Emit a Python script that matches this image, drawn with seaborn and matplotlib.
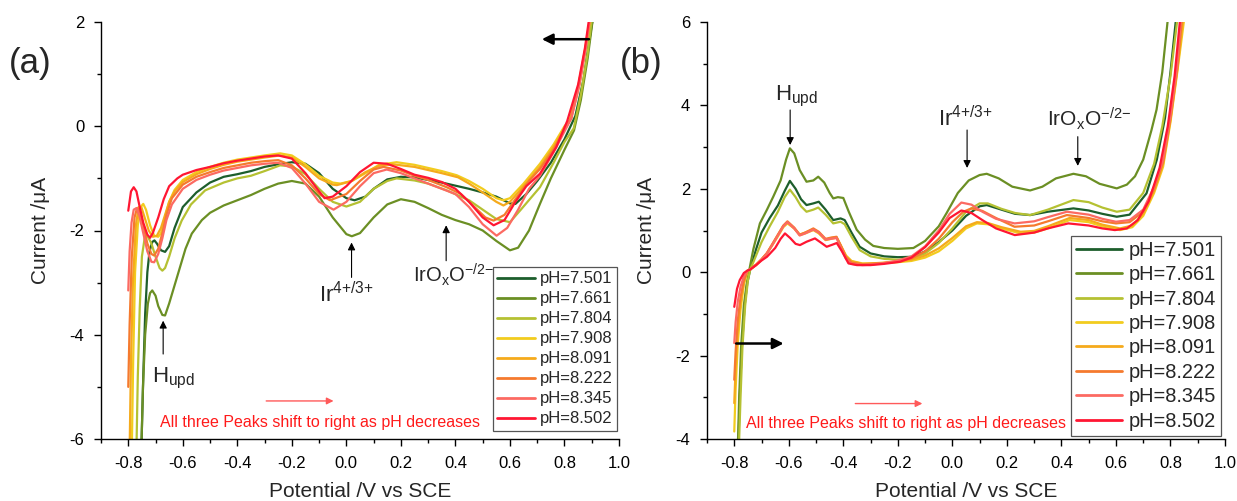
import matplotlib
matplotlib.use("Agg")
import matplotlib.pyplot as plt
from matplotlib.ticker import MultipleLocator
import pandas as pd
import seaborn as sns

# ---------------- data ----------------
PH_LABELS = ["pH=7.501", "pH=7.661", "pH=7.804", "pH=7.908",
             "pH=8.091", "pH=8.222", "pH=8.345", "pH=8.502"]
COLORS = ["#1d5e2c", "#6b8f24", "#b5c132", "#f2cc1e",
          "#f5aa1c", "#f57a2e", "#fc6a62", "#ff1632"]

# (a) cathodic sweep, potential (V vs SCE) and current (uA)
a7501_E = [-0.752, -0.745, -0.738, -0.73, -0.722, -0.712, -0.704, -0.695, -0.68, -0.665, -0.65, -0.63, -0.6, -0.55,
           -0.5, -0.45, -0.4, -0.35, -0.3, -0.25, -0.2, -0.15, -0.1, -0.05, 0.0, 0.03, 0.07, 0.1, 0.15, 0.2, 0.25,
           0.3, 0.35, 0.4, 0.45, 0.5, 0.55, 0.6, 0.62, 0.66, 0.7, 0.75, 0.8, 0.84, 0.87, 0.89, 0.905]
a7501_I = [-6.2, -4.8, -3.6, -2.8, -2.4, -2.22, -2.19, -2.25, -2.38, -2.41, -2.3, -1.95, -1.55, -1.27,
           -1.08, -0.97, -0.92, -0.86, -0.78, -0.73, -0.69, -0.72, -0.9, -1.2, -1.38, -1.42, -1.35, -1.2, -1.02, -0.97, -0.98,
           -1.03, -1.08, -1.14, -1.2, -1.27, -1.35, -1.48, -1.49, -1.3, -1.05, -0.7, -0.25, 0.2, 0.9, 1.6, 2.1]

a7661_E = [-0.752, -0.746, -0.738, -0.728, -0.72, -0.712, -0.70, -0.69, -0.675, -0.665, -0.65, -0.63, -0.61, -0.59,
           -0.567, -0.53, -0.5, -0.45, -0.4, -0.35, -0.3, -0.25, -0.2, -0.15, -0.1, -0.05, 0.0, 0.02, 0.05, 0.1,
           0.15, 0.2, 0.25, 0.3, 0.35, 0.4, 0.45, 0.5, 0.55, 0.6, 0.63, 0.67, 0.71, 0.75, 0.8, 0.835, 0.86, 0.885, 0.905]
a7661_I = [-6.2, -5.0, -4.0, -3.4, -3.2, -3.15, -3.25, -3.45, -3.62, -3.63, -3.4, -3.05, -2.7, -2.35,
           -2.06, -1.8, -1.66, -1.52, -1.42, -1.32, -1.2, -1.1, -1.05, -1.1, -1.35, -1.75, -2.07, -2.11, -2.05, -1.75,
           -1.5, -1.4, -1.45, -1.57, -1.7, -1.8, -1.88, -2.0, -2.2, -2.38, -2.33, -2.0, -1.49, -1.0, -0.45, -0.08, 0.5, 1.3, 2.1]

a7804_E = [-0.77, -0.765, -0.758, -0.75, -0.74, -0.73, -0.715, -0.7, -0.685, -0.675, -0.665, -0.65, -0.63, -0.604,
           -0.57, -0.518, -0.45, -0.4, -0.35, -0.3, -0.243, -0.2, -0.15, -0.1, -0.05, 0.0, 0.05, 0.1, 0.15, 0.184,
           0.25, 0.3, 0.368, 0.45, 0.5, 0.55, 0.6, 0.64, 0.71, 0.76, 0.8, 0.834, 0.86, 0.885, 0.9]
a7804_I = [-6.2, -4.8, -3.5, -2.5, -2.15, -2.1, -2.25, -2.5, -2.72, -2.77, -2.72, -2.5, -2.15, -1.81,
           -1.5, -1.23, -1.08, -1.0, -0.95, -0.86, -0.75, -0.77, -0.92, -1.2, -1.45, -1.54, -1.45, -1.2, -1.05, -1.0,
           -1.04, -1.1, -1.23, -1.42, -1.6, -1.78, -1.84, -1.6, -1.17, -0.7, -0.3, -0.04, 0.6, 1.4, 2.05]

a7908_E = [-0.787, -0.782, -0.775, -0.765, -0.755, -0.745, -0.735, -0.72, -0.705, -0.69, -0.68, -0.665, -0.65, -0.63,
           -0.6, -0.55, -0.5, -0.45, -0.4, -0.35, -0.3, -0.243, -0.2, -0.15, -0.1, -0.05, -0.022, 0.02, 0.07, 0.12,
           0.184, 0.25, 0.3, 0.35, 0.405, 0.45, 0.5, 0.55, 0.576, 0.6, 0.65, 0.71, 0.76, 0.8, 0.82, 0.85, 0.875, 0.895]
a7908_I = [-6.2, -4.5, -2.8, -1.9, -1.55, -1.49, -1.6, -1.9, -2.1, -2.12, -2.05, -1.75, -1.45, -1.22,
           -1.03, -0.88, -0.78, -0.7, -0.64, -0.6, -0.56, -0.52, -0.56, -0.73, -0.95, -1.08, -1.1, -1.05, -0.9, -0.74,
           -0.69, -0.74, -0.8, -0.86, -0.94, -1.05, -1.2, -1.38, -1.42, -1.38, -1.1, -0.72, -0.35, 0.0, 0.12, 0.75, 1.45, 2.05]

a8091_E = [-0.795, -0.79, -0.783, -0.772, -0.762, -0.752, -0.74, -0.725, -0.71, -0.695, -0.68, -0.665, -0.65, -0.63,
           -0.6, -0.55, -0.5, -0.45, -0.4, -0.35, -0.3, -0.243, -0.2, -0.15, -0.1, -0.05, -0.035, 0.02, 0.07, 0.12,
           0.17, 0.25, 0.3, 0.35, 0.41, 0.45, 0.5, 0.55, 0.576, 0.6, 0.65, 0.71, 0.76, 0.8, 0.82, 0.85, 0.875, 0.893]
a8091_I = [-6.2, -4.5, -3.0, -1.9, -1.55, -1.55, -1.75, -2.0, -2.12, -2.1, -1.95, -1.7, -1.45, -1.25,
           -1.07, -0.92, -0.82, -0.74, -0.68, -0.64, -0.6, -0.56, -0.6, -0.78, -1.0, -1.12, -1.13, -1.05, -0.88, -0.76,
           -0.73, -0.78, -0.84, -0.9, -0.98, -1.1, -1.27, -1.45, -1.52, -1.45, -1.15, -0.78, -0.4, -0.05, 0.12, 0.75, 1.45, 2.05]

a8222_E = [-0.80, -0.795, -0.787, -0.777, -0.768, -0.758, -0.745, -0.73, -0.715, -0.705, -0.69, -0.675, -0.66, -0.64,
           -0.6, -0.55, -0.5, -0.45, -0.4, -0.35, -0.3, -0.25, -0.2, -0.15, -0.1, -0.06, 0.0, 0.05, 0.1, 0.136,
           0.2, 0.25, 0.3, 0.368, 0.42, 0.47, 0.51, 0.54, 0.58, 0.62, 0.67, 0.71, 0.76, 0.8, 0.825, 0.855, 0.878, 0.893]
a8222_I = [-5.0, -3.8, -2.5, -1.75, -1.57, -1.62, -1.9, -2.25, -2.45, -2.48, -2.35, -2.05, -1.7, -1.38,
           -1.12, -0.97, -0.88, -0.8, -0.75, -0.7, -0.67, -0.65, -0.75, -1.0, -1.3, -1.42, -1.3, -1.05, -0.83, -0.78,
           -0.85, -0.95, -1.03, -1.17, -1.3, -1.55, -1.75, -1.81, -1.7, -1.4, -1.05, -0.82, -0.45, -0.05, 0.15, 0.8, 1.5, 2.05]

a8345_E = [-0.80, -0.795, -0.788, -0.78, -0.77, -0.76, -0.745, -0.73, -0.715, -0.705, -0.69, -0.675, -0.66, -0.64,
           -0.6, -0.55, -0.5, -0.45, -0.4, -0.35, -0.3, -0.25, -0.2, -0.15, -0.1, -0.047, 0.0, 0.05, 0.1, 0.148,
           0.2, 0.25, 0.3, 0.35, 0.4, 0.45, 0.5, 0.551, 0.59, 0.63, 0.67, 0.71, 0.76, 0.8, 0.825, 0.855, 0.878, 0.893]
a8345_I = [-3.15, -2.4, -1.85, -1.6, -1.57, -1.7, -2.05, -2.4, -2.6, -2.61, -2.45, -2.15, -1.8, -1.5,
           -1.2, -1.03, -0.93, -0.85, -0.8, -0.75, -0.72, -0.7, -0.8, -1.1, -1.45, -1.6, -1.45, -1.15, -0.9, -0.83,
           -0.9, -1.0, -1.1, -1.2, -1.3, -1.55, -1.88, -2.1, -1.95, -1.6, -1.2, -0.95, -0.5, -0.1, 0.15, 0.8, 1.5, 2.05]

a8502_E = [-0.80, -0.79, -0.78, -0.77, -0.76, -0.745, -0.73, -0.72, -0.71, -0.69, -0.67, -0.65, -0.62,
           -0.6, -0.55, -0.5, -0.45, -0.4, -0.35, -0.3, -0.25, -0.2, -0.15, -0.1, -0.08, -0.05, 0.0, 0.05, 0.1,
           0.15, 0.2, 0.25, 0.3, 0.35, 0.4, 0.45, 0.5, 0.54, 0.58, 0.62, 0.66, 0.71, 0.77, 0.81, 0.85, 0.875, 0.89]
a8502_I = [-1.62, -1.25, -1.17, -1.25, -1.5, -1.85, -2.08, -2.14, -2.05, -1.75, -1.4, -1.15, -1.0,
           -0.93, -0.84, -0.78, -0.71, -0.66, -0.62, -0.58, -0.56, -0.62, -0.9, -1.25, -1.38, -1.35, -1.15, -0.88, -0.7,
           -0.72, -0.82, -0.93, -0.99, -1.07, -1.2, -1.45, -1.75, -1.9, -1.8, -1.45, -1.15, -0.91, -0.4, 0.1, 0.8, 1.5, 2.05]

# (b) anodic sweep
b7501_E = [-0.785, -0.78, -0.772, -0.762, -0.752, -0.742, -0.72, -0.7, -0.67, -0.64, -0.615, -0.596, -0.575, -0.555,
           -0.535, -0.51, -0.49, -0.465, -0.437, -0.41, -0.395, -0.37, -0.34, -0.3, -0.25, -0.2, -0.143, -0.1,
           -0.05, 0.0, 0.05, 0.1, 0.126, 0.18, 0.23, 0.285, 0.35, 0.444, 0.5, 0.55, 0.603, 0.65, 0.712, 0.75,
           0.78, 0.8, 0.82]
b7501_I = [-4.2, -3.0, -1.8, -0.8, -0.25, 0.05, 0.55, 0.95, 1.3, 1.6, 1.95, 2.19, 2.0, 1.75,
           1.61, 1.65, 1.69, 1.5, 1.25, 1.29, 1.25, 0.95, 0.61, 0.45, 0.38, 0.36, 0.37, 0.5,
           0.72, 1.0, 1.35, 1.58, 1.61, 1.5, 1.4, 1.37, 1.45, 1.53, 1.48, 1.4, 1.33, 1.38, 1.89, 2.7,
           3.7, 4.8, 6.05]

b7661_E = [-0.787, -0.782, -0.775, -0.765, -0.755, -0.745, -0.73, -0.706, -0.68, -0.657, -0.63, -0.61, -0.596, -0.58,
           -0.56, -0.535, -0.51, -0.492, -0.47, -0.45, -0.437, -0.42, -0.40, -0.38, -0.351, -0.32, -0.29, -0.25,
           -0.2, -0.143, -0.1, -0.05, -0.021, 0.02, 0.06, 0.1, 0.126, 0.17, 0.22, 0.285, 0.33, 0.38, 0.444, 0.49,
           0.54, 0.603, 0.64, 0.67, 0.7, 0.73, 0.749, 0.77, 0.79]
b7661_I = [-4.2, -3.0, -1.8, -0.8, -0.3, 0.05, 0.55, 1.17, 1.5, 1.81, 2.2, 2.7, 2.97, 2.85,
           2.45, 2.17, 2.2, 2.29, 2.15, 1.9, 1.77, 1.8, 1.78, 1.45, 1.02, 0.78, 0.63, 0.58,
           0.56, 0.58, 0.75, 1.1, 1.42, 1.9, 2.2, 2.33, 2.36, 2.25, 2.05, 1.96, 2.05, 2.25, 2.36, 2.3,
           2.12, 2.01, 2.1, 2.3, 2.7, 3.4, 3.9, 4.8, 6.05]

b7804_E = [-0.783, -0.777, -0.77, -0.76, -0.75, -0.742, -0.72, -0.7, -0.67, -0.64, -0.615, -0.596, -0.575, -0.555,
           -0.535, -0.51, -0.492, -0.465, -0.437, -0.41, -0.395, -0.37, -0.34, -0.3, -0.25, -0.2, -0.143, -0.1,
           -0.05, 0.0, 0.05, 0.1, 0.13, 0.18, 0.23, 0.285, 0.35, 0.444, 0.5, 0.55, 0.603, 0.65, 0.7, 0.74,
           0.77, 0.8, 0.825]
b7804_I = [-4.2, -3.0, -1.8, -0.8, -0.2, 0.05, 0.4, 0.72, 1.1, 1.45, 1.8, 1.98, 1.8, 1.58,
           1.45, 1.5, 1.55, 1.38, 1.17, 1.21, 1.15, 0.85, 0.53, 0.38, 0.32, 0.3, 0.33, 0.45,
           0.7, 1.05, 1.45, 1.65, 1.65, 1.52, 1.42, 1.37, 1.5, 1.73, 1.68, 1.55, 1.45, 1.5, 1.9, 2.6,
           3.5, 4.7, 6.05]

b7908_E = [-0.80, -0.795, -0.787, -0.777, -0.765, -0.752, -0.742, -0.72, -0.70, -0.68, -0.66, -0.64, -0.62, -0.605,
           -0.58, -0.56, -0.54, -0.51, -0.49, -0.465, -0.445, -0.425, -0.41, -0.39, -0.37, -0.33, -0.3, -0.25,
           -0.2, -0.15, -0.1, -0.05, 0.0, 0.05, 0.09, 0.13, 0.18, 0.25, 0.3, 0.35, 0.43, 0.5, 0.55, 0.615,
           0.66, 0.7, 0.74, 0.773, 0.8, 0.825, 0.85]
b7908_I = [-3.82, -2.8, -1.7, -0.9, -0.3, 0.02, 0.06, 0.17, 0.3, 0.45, 0.65, 0.86, 1.08, 1.17,
           1.05, 0.89, 0.93, 1.01, 0.93, 0.77, 0.8, 0.83, 0.65, 0.4, 0.27, 0.21, 0.21, 0.22,
           0.24, 0.27, 0.35, 0.5, 0.75, 1.05, 1.17, 1.15, 1.05, 0.93, 0.95, 1.05, 1.25, 1.2, 1.1, 1.01,
           1.08, 1.35, 1.9, 2.53, 3.6, 4.8, 6.05]

b8091_E = [-0.80, -0.795, -0.787, -0.777, -0.765, -0.752, -0.742, -0.72, -0.70, -0.68, -0.66, -0.64, -0.62, -0.605,
           -0.58, -0.56, -0.54, -0.51, -0.49, -0.465, -0.445, -0.425, -0.41, -0.39, -0.37, -0.33, -0.3, -0.25,
           -0.2, -0.15, -0.1, -0.05, 0.0, 0.05, 0.09, 0.13, 0.18, 0.25, 0.3, 0.35, 0.43, 0.5, 0.55, 0.615,
           0.66, 0.7, 0.74, 0.773, 0.8, 0.825, 0.846]
b8091_I = [-3.14, -2.3, -1.4, -0.75, -0.25, 0.03, 0.07, 0.18, 0.31, 0.46, 0.67, 0.89, 1.11, 1.2,
           1.05, 0.9, 0.95, 1.03, 0.95, 0.78, 0.82, 0.84, 0.65, 0.38, 0.26, 0.2, 0.21, 0.23,
           0.25, 0.3, 0.4, 0.57, 0.82, 1.1, 1.2, 1.18, 1.08, 0.97, 0.99, 1.1, 1.3, 1.25, 1.14, 1.05,
           1.12, 1.4, 1.95, 2.6, 3.65, 4.85, 6.05]

b8222_E = [-0.80, -0.795, -0.787, -0.777, -0.765, -0.752, -0.742, -0.72, -0.70, -0.68, -0.66, -0.64, -0.62, -0.605,
           -0.58, -0.56, -0.54, -0.51, -0.49, -0.465, -0.445, -0.425, -0.41, -0.39, -0.37, -0.33, -0.3, -0.25,
           -0.2, -0.15, -0.1, -0.05, 0.0, 0.04, 0.07, 0.11, 0.16, 0.228, 0.3, 0.35, 0.42, 0.5, 0.55, 0.6,
           0.65, 0.7, 0.74, 0.773, 0.8, 0.825, 0.842]
b8222_I = [-2.58, -1.9, -1.15, -0.6, -0.2, 0.03, 0.07, 0.18, 0.31, 0.46, 0.68, 0.9, 1.12, 1.22,
           1.07, 0.9, 0.95, 1.05, 0.97, 0.8, 0.83, 0.85, 0.65, 0.36, 0.23, 0.19, 0.2, 0.22,
           0.26, 0.33, 0.5, 0.8, 1.2, 1.45, 1.53, 1.47, 1.3, 1.09, 1.12, 1.22, 1.37, 1.3, 1.22, 1.17,
           1.2, 1.45, 2.0, 2.65, 3.7, 4.9, 6.05]

b8345_E = [-0.80, -0.795, -0.787, -0.777, -0.765, -0.752, -0.742, -0.72, -0.70, -0.68, -0.66, -0.64, -0.62, -0.605,
           -0.58, -0.56, -0.54, -0.51, -0.49, -0.465, -0.445, -0.425, -0.41, -0.39, -0.37, -0.33, -0.3, -0.25,
           -0.2, -0.15, -0.1, -0.05, -0.01, 0.033, 0.07, 0.11, 0.16, 0.228, 0.3, 0.35, 0.42, 0.5, 0.55, 0.6,
           0.65, 0.7, 0.74, 0.773, 0.8, 0.825, 0.838]
b8345_I = [-1.7, -1.2, -0.7, -0.35, -0.1, 0.03, 0.07, 0.17, 0.3, 0.45, 0.66, 0.88, 1.1, 1.2,
           1.05, 0.88, 0.93, 1.02, 0.95, 0.78, 0.8, 0.82, 0.6, 0.32, 0.2, 0.17, 0.18, 0.22,
           0.28, 0.38, 0.62, 1.0, 1.4, 1.67, 1.62, 1.45, 1.28, 1.17, 1.22, 1.32, 1.45, 1.38, 1.28, 1.21,
           1.25, 1.5, 2.05, 2.7, 3.75, 5.0, 6.05]

b8502_E = [-0.80, -0.79, -0.78, -0.765, -0.752, -0.742, -0.72, -0.70, -0.68, -0.65, -0.63, -0.614, -0.595, -0.575,
           -0.559, -0.535, -0.504, -0.48, -0.461, -0.44, -0.424, -0.405, -0.381, -0.35, -0.3, -0.25, -0.192, -0.15,
           -0.1, -0.05, -0.01, 0.033, 0.07, 0.11, 0.16, 0.229, 0.3, 0.35, 0.425, 0.5, 0.55, 0.596, 0.64, 0.68,
           0.72, 0.76, 0.79, 0.815, 0.835]
b8502_I = [-0.83, -0.4, -0.19, -0.02, 0.04, 0.06, 0.17, 0.28, 0.37, 0.58, 0.8, 0.93, 0.82, 0.68,
           0.65, 0.73, 0.81, 0.7, 0.61, 0.66, 0.70, 0.5, 0.21, 0.17, 0.17, 0.2, 0.25, 0.35,
           0.6, 0.95, 1.3, 1.48, 1.42, 1.25, 1.05, 0.89, 0.95, 1.05, 1.17, 1.12, 1.05, 1.01, 1.05, 1.25,
           1.7, 2.5, 3.5, 4.7, 6.05]

SWEEPS_A = [(a7501_E, a7501_I), (a7661_E, a7661_I), (a7804_E, a7804_I), (a7908_E, a7908_I),
            (a8091_E, a8091_I), (a8222_E, a8222_I), (a8345_E, a8345_I), (a8502_E, a8502_I)]
SWEEPS_B = [(b7501_E, b7501_I), (b7661_E, b7661_I), (b7804_E, b7804_I), (b7908_E, b7908_I),
            (b8091_E, b8091_I), (b8222_E, b8222_I), (b8345_E, b8345_I), (b8502_E, b8502_I)]

X_TICKS = [-0.8, -0.6, -0.4, -0.2, 0.0, 0.2, 0.4, 0.6, 0.8, 1.0]
X_TICK_LABELS = ["-0.8", "-0.6", "-0.4", "-0.2", "0.0", "0.2", "0.4", "0.6", "0.8", "1.0"]
NOTE = "All three Peaks shift to right as pH decreases"
H_UPD = r"$\mathregular{H_{upd}}$"
IR_COUPLE = r"$\mathregular{Ir^{4{+}/3{+}}}$"
IROX_COUPLE = "$\\mathregular{IrO_{x}O^{{\u2212}/2{\u2212}}}$"


def long_table(sweeps):
    rows = []
    for label, (e, i) in zip(PH_LABELS, sweeps):
        for ee, ii in zip(e, i):
            rows.append({"E": ee, "I": ii, "pH": label})
    return pd.DataFrame(rows)


# ---------------- style ----------------
sns.set_style("ticks")
plt.rcParams["font.family"] = ["Liberation Sans", "DejaVu Sans"]
plt.rcParams["axes.unicode_minus"] = False
plt.rcParams["mathtext.default"] = "regular"
plt.rcParams["axes.linewidth"] = 1.0

fig = plt.figure(figsize=(12.37, 5.01), dpi=100)
ax_a = fig.add_axes([101 / 1237, 62 / 501, 518 / 1237, 417 / 501])
ax_b = fig.add_axes([707 / 1237, 62 / 501, 518 / 1237, 417 / 501])

palette = dict(zip(PH_LABELS, COLORS))

for ax, sweeps in ((ax_a, SWEEPS_A), (ax_b, SWEEPS_B)):
    sns.lineplot(data=long_table(sweeps), x="E", y="I", hue="pH", hue_order=PH_LABELS,
                 palette=palette, estimator=None, sort=False, units="pH",
                 linewidth=1.6, ax=ax)

for ax in (ax_a, ax_b):
    sns.despine(ax=ax)
    ax.set_xlim(-0.9, 1.0)
    ax.set_xticks(X_TICKS)
    ax.set_xticklabels(X_TICK_LABELS)
    ax.xaxis.set_minor_locator(MultipleLocator(0.1))
    ax.yaxis.set_major_locator(MultipleLocator(2))
    ax.yaxis.set_minor_locator(MultipleLocator(1))
    ax.tick_params(which="major", direction="out", length=5, width=1, labelsize=12, pad=7,
                   color="black", labelcolor="black")
    ax.tick_params(which="minor", direction="out", length=3, width=1, color="black")
    ax.set_xlabel("Potential /V vs SCE", fontsize=15)
    ax.set_ylabel("Current /\u03bcA", fontsize=15)
    ax.xaxis.set_label_coords(0.5, -0.127)
    ax.xaxis.label.set_va("center")
    ax.yaxis.set_label_coords(-0.117, 0.5)
    ax.yaxis.label.set_va("center")
    for s in ("left", "bottom"):
        ax.spines[s].set_color("black")

ax_a.set_ylim(-6, 2)
ax_b.set_ylim(-4, 6)

# legends
for ax, fs, anchor, spacing in ((ax_a, 12, (0.997, 0.02), 0.3), (ax_b, 14.4, (0.992, 0.008), 0.27)):
    handles, labels = ax.get_legend_handles_labels()
    leg = ax.legend(handles, labels, loc="lower right", bbox_to_anchor=anchor, fontsize=fs,
                    frameon=True, fancybox=False, framealpha=1, edgecolor="#555555",
                    handlelength=2.3, handletextpad=0.3, labelspacing=spacing,
                    borderpad=0.25, borderaxespad=0.0)
    leg.get_frame().set_linewidth(0.9)
    for line in leg.get_lines():
        line.set_linewidth(2.0)

# annotations for panel (a)
thin = dict(arrowstyle="-|>", color="black", lw=0.8, mutation_scale=11, shrinkA=0, shrinkB=0)
bold = dict(arrowstyle="-|>", color="black", lw=1.8, mutation_scale=16, shrinkA=0, shrinkB=0)
redarr = dict(arrowstyle="-|>", color="#ff5a5a", lw=1.0, mutation_scale=10, shrinkA=0, shrinkB=0)

ax_a.annotate("", xy=(0.717, 1.67), xytext=(0.89, 1.67), arrowprops=bold)
ax_a.annotate("", xy=(-0.672, -3.73), xytext=(-0.672, -4.37), arrowprops=thin)
ax_a.annotate("", xy=(0.019, -2.23), xytext=(0.019, -2.9), arrowprops=thin)
ax_a.annotate("", xy=(0.366, -1.90), xytext=(0.366, -2.58), arrowprops=thin)
ax_a.annotate("", xy=(-0.047, -5.27), xytext=(-0.294, -5.27), arrowprops=redarr)
ax_a.text(-0.635, -4.92, H_UPD, fontsize=16, ha="center", va="baseline")
ax_a.text(0.0, -3.38, IR_COUPLE, fontsize=16, ha="center", va="baseline")
ax_a.text(0.395, -3.0, IROX_COUPLE, fontsize=14.5, ha="center", va="baseline")
ax_a.text(-0.684, -5.69, NOTE, color="#ff1a1a", fontsize=11.5, ha="left", va="center")

# annotations for panel (b)
ax_b.annotate("", xy=(-0.619, -1.71), xytext=(-0.793, -1.71), arrowprops=bold)
ax_b.annotate("", xy=(-0.595, 3.05), xytext=(-0.595, 3.89), arrowprops=thin)
ax_b.annotate("", xy=(0.054, 2.5), xytext=(0.054, 3.41), arrowprops=thin)
ax_b.annotate("", xy=(0.46, 2.55), xytext=(0.46, 3.25), arrowprops=thin)
ax_b.annotate("", xy=(-0.11, -3.15), xytext=(-0.356, -3.15), arrowprops=redarr)
ax_b.text(-0.57, 4.13, H_UPD, fontsize=16, ha="center", va="baseline")
ax_b.text(0.047, 3.49, IR_COUPLE, fontsize=16, ha="center", va="baseline")
ax_b.text(0.503, 3.49, IROX_COUPLE, fontsize=15, ha="center", va="baseline")
ax_b.text(-0.757, -3.64, NOTE, color="#ff1a1a", fontsize=11.5, ha="left", va="center")

# panel letters
fig.text(30 / 1237, 1 - 63 / 501, "(a)", fontsize=25, ha="center", va="center")
fig.text(641 / 1237, 1 - 63 / 501, "(b)", fontsize=25, ha="center", va="center")

fig.savefig("out.png", dpi=100)
